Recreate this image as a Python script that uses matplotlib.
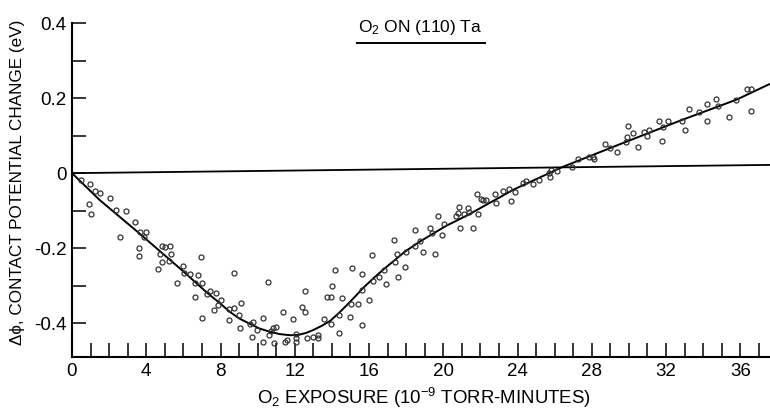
import numpy as np
from matplotlib import pyplot as plt
from matplotlib.ticker import FixedLocator, FixedFormatter

plt.rcParams['font.family'] = ['Liberation Sans', 'DejaVu Sans']
plt.rcParams['mathtext.fontset'] = 'custom'
plt.rcParams['mathtext.rm'] = 'Liberation Sans'
plt.rcParams['mathtext.default'] = 'regular'
plt.rcParams['axes.unicode_minus'] = False

# measured points, exposure (1e-9 torr-min) vs contact potential change (eV)
exposure = [
    0.48, 0.99, 1.24, 1.53, 0.92, 1.02, 2.03, 2.39, 2.91, 3.38, 2.57, 3.65, 4.00, 3.86, 3.61, 3.61,
    4.83, 5.01, 5.28, 5.33, 4.72, 4.85, 4.65, 5.25, 6.00, 6.02, 6.34, 6.97, 6.81, 5.67, 6.63, 6.99,
    6.65, 7.44, 7.26, 7.76, 8.01, 7.02, 7.67, 7.85, 8.73, 8.44, 8.75, 9.12, 8.98, 8.48, 9.07, 9.59,
    9.73, 10.27, 9.98, 9.68, 10.27, 10.58, 10.71, 10.81, 10.97, 10.63, 10.88, 11.38, 11.60, 11.48,
    11.92, 12.05, 12.05, 12.07, 12.54, 12.39, 12.55, 12.64, 13.00, 13.24, 13.27, 13.60, 13.72, 13.95,
    13.99, 14.17, 13.95, 14.40, 14.53, 14.40, 14.98, 15.01, 15.64, 15.09, 15.61, 15.43, 15.61, 16.00,
    16.18, 16.24, 16.54, 16.81, 16.94, 17.35, 17.49, 17.40, 17.55, 17.94, 17.98, 18.48, 18.46, 18.75,
    18.93, 19.56, 19.29, 19.38, 19.70, 19.92, 20.04, 20.69, 20.87, 20.91, 20.82, 21.12, 21.35, 21.41,
    21.59, 21.84, 21.89, 22.04, 22.16, 22.31, 22.79, 22.84, 23.24, 23.56, 23.65, 23.87, 24.32, 24.46,
    24.86, 25.18, 25.72, 25.75, 25.79, 26.11, 26.92, 27.25, 27.87, 28.05, 28.14, 28.72, 28.99, 29.35,
    29.85, 29.97, 29.92, 30.24, 30.51, 30.82, 31.00, 31.10, 31.64, 31.82, 31.77, 32.13, 32.85, 33.03,
    33.21, 33.80, 34.20, 34.23, 34.69, 34.82, 35.41, 35.78, 36.35, 36.58, 36.57]
delta_phi = [
    -0.017, -0.030, -0.048, -0.052, -0.083, -0.109, -0.065, -0.097, -0.102, -0.131, -0.171, -0.156,
    -0.156, -0.170, -0.199, -0.220, -0.194, -0.198, -0.193, -0.215, -0.216, -0.238, -0.256, -0.234,
    -0.247, -0.265, -0.268, -0.223, -0.272, -0.293, -0.292, -0.292, -0.329, -0.314, -0.323, -0.319,
    -0.337, -0.387, -0.364, -0.352, -0.266, -0.362, -0.359, -0.347, -0.378, -0.391, -0.413, -0.402,
    -0.397, -0.387, -0.417, -0.437, -0.450, -0.291, -0.420, -0.413, -0.409, -0.432, -0.452, -0.370,
    -0.446, -0.450, -0.390, -0.430, -0.439, -0.450, -0.314, -0.356, -0.370, -0.439, -0.438, -0.432,
    -0.439, -0.388, -0.329, -0.330, -0.301, -0.259, -0.402, -0.426, -0.334, -0.379, -0.384, -0.348,
    -0.406, -0.253, -0.268, -0.348, -0.312, -0.337, -0.217, -0.287, -0.276, -0.257, -0.296, -0.178,
    -0.216, -0.236, -0.277, -0.251, -0.209, -0.151, -0.195, -0.182, -0.211, -0.216, -0.146, -0.160,
    -0.115, -0.164, -0.135, -0.113, -0.090, -0.146, -0.106, -0.108, -0.092, -0.104, -0.146, -0.056,
    -0.108, -0.070, -0.071, -0.071, -0.055, -0.080, -0.047, -0.041, -0.074, -0.050, -0.026, -0.021,
    -0.030, -0.017, 0.001, -0.010, 0.008, 0.005, 0.017, 0.038, 0.044, 0.042, 0.037, 0.077, 0.066,
    0.056, 0.084, 0.126, 0.097, 0.108, 0.071, 0.109, 0.099, 0.115, 0.140, 0.123, 0.087, 0.138,
    0.140, 0.114, 0.171, 0.162, 0.185, 0.140, 0.198, 0.180, 0.151, 0.196, 0.225, 0.225, 0.167]

# hand drawn fit curve
fit_x = [0, 1.5, 3.57, 6.0, 7.26, 8.0, 8.51, 9.0, 9.59, 10.1, 10.67, 11.2, 11.75, 12.2, 12.6,
         13.0, 13.45, 13.9, 14.35, 14.8, 15.25, 15.7, 16.24, 16.77, 17.94, 18.75, 20.17, 21.27,
         22.0, 23.78, 26.4, 29.2, 32.76, 35.8, 37.6]
fit_y = [0, -0.072, -0.158, -0.262, -0.318, -0.348, -0.370, -0.387, -0.402, -0.414, -0.423,
         -0.429, -0.432, -0.431, -0.426, -0.418, -0.407, -0.394, -0.374, -0.352, -0.329, -0.305,
         -0.280, -0.257, -0.209, -0.182, -0.140, -0.113, -0.093, -0.044, 0.016, 0.071, 0.140,
         0.196, 0.238]

# reference (zero) line, drawn slightly tilted in the original
ref_x = [0, 37.6]
ref_y = [0, 0.022]

fig = plt.figure(figsize=(7.7, 4.13), dpi=100)
ax = fig.add_axes([0.0935, 0.1356, 0.9065, 0.8085])

ax.plot(ref_x, ref_y, color='black', linewidth=1.3)
ax.plot(fit_x, fit_y, color='black', linewidth=1.4)
ax.plot(exposure, delta_phi, linestyle='none', marker='o', markersize=3.6,
        markerfacecolor='none', markeredgecolor='#333333', markeredgewidth=0.9)

ax.set_xlim(0, 37.6)
ax.set_ylim(-0.49, 0.4)

ax.spines['top'].set_visible(False)
ax.spines['right'].set_visible(False)
ax.spines['left'].set_linewidth(1.5)
ax.spines['bottom'].set_linewidth(1.5)

ax.xaxis.set_major_locator(FixedLocator(list(range(0, 37, 4))))
ax.xaxis.set_major_formatter(FixedFormatter([str(v) for v in range(0, 37, 4)]))
ax.xaxis.set_minor_locator(FixedLocator(list(range(0, 38))))
ax.yaxis.set_major_locator(FixedLocator([-0.4, -0.2, 0, 0.2, 0.4]))
ax.yaxis.set_major_formatter(FixedFormatter(['-0.4', '-0.2', '0', '0.2', '0.4']))
ax.yaxis.set_minor_locator(FixedLocator([-0.3, -0.1, 0.1, 0.3]))
ax.tick_params(which='both', direction='in', length=10, width=1.1, colors='black')
ax.tick_params(axis='both', which='major', labelsize=13.5, pad=4)

ax.set_xlabel('O$_2$ EXPOSURE (10$^{-9}$ TORR-MINUTES)', fontsize=13.4)
ax.xaxis.set_label_coords(0.504, -0.088)
ax.set_ylabel('Δϕ, CONTACT POTENTIAL CHANGE (eV)', fontsize=12.3)
ax.yaxis.set_label_coords(-0.068, 0.524)

ax.text(18.75, 0.389, 'O$_2$ ON (110) Ta', fontsize=12.5, ha='center', va='center')
ax.plot([15.36, 22.25], [0.348, 0.348], color='black', linewidth=1.4)

plt.savefig('out.png', dpi=100)
